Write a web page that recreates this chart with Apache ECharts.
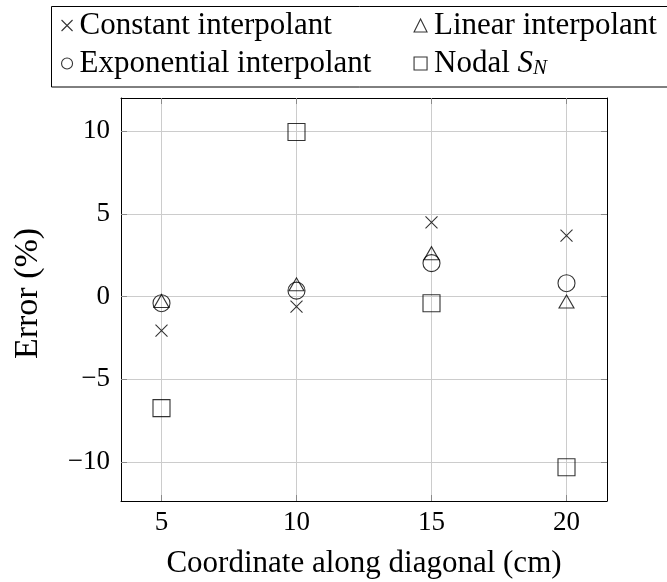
<!DOCTYPE html>
<html><head><meta charset="utf-8">
<script src="https://cdn.jsdelivr.net/npm/echarts@6/dist/echarts.min.js"></script>
<style>html,body{margin:0;padding:0;background:#fff}#c{width:667px;height:582px}</style>
</head><body><div id="c"></div>
<script>
const xValues = [5, 10, 15, 20];
const constantErr = [-2.06, -0.6, 4.48, 3.68];
const linearErr = [-0.26, 0.74, 2.62, -0.30];
const exponentialErr = [-0.40, 0.36, 2.02, 0.81];
const nodalErr = [-6.74, 9.95, -0.40, -10.31];
const xTicks = [5, 10, 15, 20];
const yTicks = [-10, -5, 0, 5, 10];
const seriesNames = ['Constant interpolant', 'Linear interpolant', 'Exponential interpolant', 'Nodal S_N'];

const FONT = 'Liberation Serif';
const crossPath = 'path://M0,0L10,10M10,0L0,10';
const fmt = v => (v < 0 ? '\u2212' + (-v) : String(v));
const pairs = arr => xValues.map((x, i) => [x, arr[i]]);
const hollow = {color: 'transparent', borderColor: '#000', borderWidth: 1.1};

function mk(name, data, symbol, size) {
  return {name, type: 'scatter', data: pairs(data), symbol, symbolSize: size,
    itemStyle: hollow, xAxisIndex: 0, yAxisIndex: 0, z: 5,
    emphasis: {disabled: true}};
}

const chart = echarts.init(document.getElementById('c'), null, {renderer: 'canvas'});
const LF = 31;
const legendText = {fontFamily: FONT, fontSize: LF, color: '#000', lineHeight: 31, padding: [0, 0, 0, 2],
  rich: {i: {fontFamily: FONT, fontStyle: 'italic', fontSize: LF, color: '#000'},
         s: {fontFamily: FONT, fontStyle: 'italic', fontSize: 21, color: '#000', verticalAlign: 'bottom', padding: [15, 0, 0, 0]}}};
const legendFmt = n => n === 'Nodal S_N' ? 'Nodal {i|S}{s|N}' : n;
const gridLine = {show: true, lineStyle: {color: '#cccccc', width: 1}};
const tickStyle = {show: true, inside: true, length: 6, lineStyle: {color: '#8a8a8a'}};
const axLine = {show: true, onZero: false, lineStyle: {color: '#000', width: 1}};
const xRange = {min: 3.5, max: 21.5};
const yRange = {min: -12.35, max: 12.0};

chart.setOption({
  animation: false,
  grid: {left: 121, right: 60, top: 98, bottom: 81, outerBoundsMode: 'none', containLabel: false},
  legend: [
    {orient: 'vertical', left: 61, top: 10, padding: 0, itemWidth: 11, itemHeight: 11, itemGap: 7,
     textStyle: legendText, formatter: legendFmt, selectedMode: false,
     data: [{name: seriesNames[0], icon: crossPath, itemStyle: hollow},
            {name: seriesNames[2], icon: 'circle', itemStyle: hollow}]},
    {orient: 'vertical', left: 413.5, top: 10, padding: 0, itemWidth: 13, itemHeight: 13, itemGap: 7,
     textStyle: legendText, formatter: legendFmt, selectedMode: false,
     data: [{name: seriesNames[1], icon: 'triangle', itemStyle: hollow},
            {name: seriesNames[3], icon: 'rect', itemStyle: hollow}]}
  ],
  graphic: [{type: 'rect', shape: {x: 51.5, y: 6.5, width: 700, height: 80.5},
    style: {fill: 'none', stroke: '#000', lineWidth: 1}, z: 10}],
  xAxis: [
    {type: 'value', position: 'bottom', ...xRange,
     name: 'Coordinate along diagonal (cm)', nameLocation: 'middle', nameGap: 47,
     nameTextStyle: {fontFamily: FONT, fontSize: 31, color: '#000'},
     axisLine: axLine, splitLine: gridLine,
     axisTick: {...tickStyle, customValues: xTicks},
     axisLabel: {customValues: xTicks, formatter: fmt, fontFamily: FONT, fontSize: 27, color: '#000', margin: 8}},
    {type: 'value', position: 'top', ...xRange, axisLine: axLine, splitLine: {show: false},
     axisTick: {...tickStyle, customValues: xTicks}, axisLabel: {show: false}}
  ],
  yAxis: [
    {type: 'value', position: 'left', ...yRange,
     name: 'Error (%)', nameLocation: 'middle', nameGap: 76, nameRotate: 90,
     nameTextStyle: {fontFamily: FONT, fontSize: 34, color: '#000', padding: [0, 0, 0, 12]},
     axisLine: axLine, splitLine: gridLine,
     axisTick: {...tickStyle, customValues: yTicks},
     axisLabel: {customValues: yTicks, formatter: fmt, fontFamily: FONT, fontSize: 27, color: '#000', margin: 11}},
    {type: 'value', position: 'right', ...yRange, axisLine: axLine, splitLine: {show: false},
     axisTick: {...tickStyle, customValues: yTicks}, axisLabel: {show: false}}
  ],
  series: [
    mk(seriesNames[0], constantErr, crossPath, 12),
    mk(seriesNames[1], linearErr, 'triangle', [15, 13]),
    mk(seriesNames[2], exponentialErr, 'circle', 17),
    mk(seriesNames[3], nodalErr, 'rect', 17)
  ]
});
</script></body></html>
